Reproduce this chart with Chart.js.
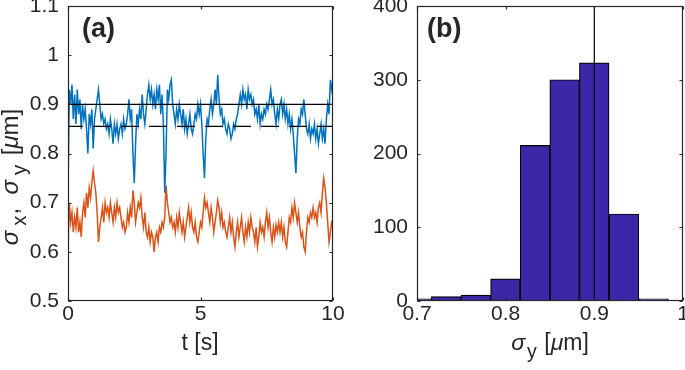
<!DOCTYPE html>
<html>
<head>
<meta charset="utf-8">
<script src="https://cdn.jsdelivr.net/npm/chart.js@4.4.0/dist/chart.umd.min.js"></script>
<style>
  html, body { margin: 0; padding: 0; background: #fff; }
  #wrap { position: relative; width: 685px; height: 370px; overflow: hidden; }
  #timeChart { position: absolute; left: 0; top: 0; }
  #histChart { position: absolute; left: 345px; top: 0; }
</style>
</head>
<body>
<div id="wrap">
  <canvas id="timeChart" width="345" height="370"></canvas>
  <canvas id="histChart" width="340" height="370"></canvas>
</div>
<script>
// ---- data ----
const dt = 0.05; // sample spacing of the traces, s

// sigma_y (blue), one value every 0.05 s from 0 to 10 s
const sigmaY = [
  0.72, 0.93, 0.90, 0.94, 0.87, 0.92, 0.86, 0.93, 0.88, 0.91, 0.85, 0.90, 0.87, 0.89, 0.85, 0.80, 0.88, 0.86, 0.89, 0.81,
  0.87, 0.89, 0.91, 0.93, 0.90, 0.87, 0.88, 0.86, 0.87, 0.85, 0.86, 0.84, 0.87, 0.85, 0.82, 0.86, 0.84, 0.86, 0.83, 0.85,
  0.86, 0.84, 0.87, 0.85, 0.86, 0.88, 0.91, 0.87, 0.89, 0.80, 0.74, 0.82, 0.88, 0.86, 0.89, 0.87, 0.92, 0.88, 0.86, 0.89,
  0.92, 0.94, 0.91, 0.93, 0.90, 0.92, 0.89, 0.93, 0.91, 0.94, 0.88, 0.92, 0.86, 0.72, 0.80, 0.93, 0.91, 0.94, 0.95, 0.90,
  0.88, 0.86, 0.89, 0.87, 0.90, 0.88, 0.86, 0.89, 0.85, 0.87, 0.84, 0.86, 0.88, 0.85, 0.84, 0.86, 0.88, 0.87, 0.90, 0.88,
  0.90, 0.86, 0.80, 0.75, 0.83, 0.87, 0.86, 0.89, 0.91, 0.88, 0.90, 0.93, 0.90, 0.96, 0.91, 0.88, 0.89, 0.86, 0.87, 0.85,
  0.84, 0.86, 0.85, 0.83, 0.84, 0.86, 0.85, 0.87, 0.88, 0.90, 0.92, 0.90, 0.93, 0.91, 0.92, 0.89, 0.93, 0.91, 0.92, 0.90,
  0.91, 0.88, 0.89, 0.87, 0.90, 0.86, 0.88, 0.87, 0.89, 0.88, 0.90, 0.89, 0.91, 0.93, 0.90, 0.91, 0.88, 0.86, 0.89, 0.87,
  0.90, 0.91, 0.88, 0.90, 0.87, 0.89, 0.86, 0.88, 0.85, 0.87, 0.84, 0.80, 0.76, 0.83, 0.87, 0.86, 0.89, 0.88, 0.91, 0.88,
  0.85, 0.84, 0.86, 0.83, 0.85, 0.84, 0.86, 0.83, 0.85, 0.82, 0.84, 0.86, 0.83, 0.85, 0.82, 0.87, 0.90, 0.88, 0.95, 0.93,
  0.95
];

// sigma_x (orange), same time base
const sigmaX = [
  0.61, 0.70, 0.66, 0.68, 0.64, 0.67, 0.65, 0.69, 0.64, 0.66, 0.63, 0.68, 0.70, 0.67, 0.72, 0.69, 0.73, 0.71, 0.74, 0.765,
  0.74, 0.72, 0.68, 0.62, 0.65, 0.67, 0.69, 0.66, 0.70, 0.68, 0.69, 0.67, 0.70, 0.68, 0.66, 0.69, 0.67, 0.70, 0.68, 0.69,
  0.67, 0.65, 0.66, 0.64, 0.65, 0.68, 0.66, 0.69, 0.67, 0.725, 0.70, 0.66, 0.68, 0.70, 0.69, 0.71, 0.67, 0.65, 0.68, 0.64,
  0.63, 0.65, 0.62, 0.64, 0.63, 0.60, 0.63, 0.64, 0.62, 0.65, 0.64, 0.66, 0.65, 0.67, 0.735, 0.70, 0.68, 0.66, 0.67, 0.65,
  0.66, 0.64, 0.67, 0.65, 0.68, 0.66, 0.64, 0.66, 0.63, 0.65, 0.67, 0.69, 0.66, 0.68, 0.65, 0.64, 0.66, 0.63, 0.62, 0.64,
  0.66, 0.65, 0.68, 0.71, 0.69, 0.70, 0.68, 0.66, 0.69, 0.67, 0.64, 0.66, 0.68, 0.705, 0.69, 0.66, 0.68, 0.65, 0.66, 0.64,
  0.63, 0.65, 0.67, 0.64, 0.66, 0.63, 0.61, 0.64, 0.66, 0.63, 0.65, 0.67, 0.64, 0.62, 0.65, 0.63, 0.66, 0.64, 0.67, 0.65,
  0.64, 0.62, 0.65, 0.61, 0.63, 0.66, 0.64, 0.65, 0.63, 0.66, 0.68, 0.65, 0.67, 0.64, 0.62, 0.65, 0.63, 0.655, 0.64, 0.66,
  0.64, 0.66, 0.63, 0.65, 0.62, 0.61, 0.64, 0.67, 0.66, 0.69, 0.67, 0.70, 0.68, 0.66, 0.68, 0.65, 0.63, 0.64, 0.61, 0.60,
  0.64, 0.67, 0.66, 0.68, 0.67, 0.69, 0.67, 0.68, 0.66, 0.69, 0.70, 0.68, 0.72, 0.75, 0.73, 0.70, 0.66, 0.62, 0.64, 0.66,
  0.655
];

const refSolid = 0.9;    // solid reference line, um
const refDashed = 0.855; // dashed mean line, um
const timeRange = [0, 10];
const timeTicks = [0, 5, 10];
const sigmaTicks = [0.5, 0.6, 0.7, 0.8, 0.9, 1, 1.1];

// histogram of sigma_y
const binCenters = [0.6995, 0.7329, 0.7663, 0.7997, 0.8331, 0.8665, 0.8999, 0.9334, 0.9668];
const binCounts = [3, 6, 8, 30, 211, 300, 323, 118, 3];
const histXTicks = [0.7, 0.8, 0.9, 1];
const histYTicks = [0, 100, 200, 300, 400];

// ---- styling ----
const FONT = "'Liberation Sans', Arial, Helvetica, sans-serif";
const INK = '#262626';
Chart.defaults.font.family = FONT;
Chart.defaults.color = INK;

function axis(ticks, min, max, isX, size, pad) {
  return {
    type: 'linear', min: min, max: max, offset: false,
    grid: { display: false, drawTicks: false },
    border: { display: false },
    ticks: {
      padding: pad, autoSkip: false, maxRotation: 0, color: INK,
      font: { size: 21 },
      callback: v => String(+v.toFixed(3))
    },
    afterBuildTicks: s => { s.ticks = ticks.map(v => ({ value: v })); },
    afterFit: s => {
      if (isX) { s.height = size; s.paddingLeft = 0; s.paddingRight = 0; }
      else { s.width = size; s.paddingTop = 0; s.paddingBottom = 0; }
    }
  };
}

function richFont(p, size) {
  const sz = p.sub ? size * 0.85 : size;
  return (p.it ? 'italic ' : '') + sz + 'px ' + FONT;
}

function drawRich(ctx, parts, cx, cy, size, rot) {
  ctx.save();
  ctx.translate(cx, cy);
  ctx.rotate(rot);
  ctx.textBaseline = 'alphabetic';
  ctx.textAlign = 'left';
  ctx.fillStyle = INK;
  let w = 0;
  parts.forEach(p => { ctx.font = richFont(p, size); p.w = ctx.measureText(p.t).width + (p.gap || 0); w += p.w; });
  let x = -w / 2;
  parts.forEach(p => {
    ctx.font = richFont(p, size);
    ctx.fillText(p.t, x, p.sub ? size * 0.33 : 0);
    x += p.w;
  });
  ctx.restore();
}

// box round the axes, inward ticks on all four sides, panel tag, axis titles
const framePlugin = {
  id: 'frame',
  afterDraw(chart, args, opts) {
    const { ctx, chartArea: a, scales } = chart;
    const L = Math.round(a.left) + 0.5, R = Math.round(a.right) - 0.5;
    const T = Math.round(a.top) + 0.5, B = Math.round(a.bottom) - 0.5;
    const tl = 3;
    ctx.save();
    ctx.strokeStyle = INK;
    ctx.lineWidth = 1.2;
    ctx.strokeRect(L, T, R - L, B - T);
    ctx.beginPath();
    scales.x.ticks.forEach(t => {
      const px = Math.round(scales.x.getPixelForValue(t.value)) + 0.5;
      ctx.moveTo(px, B); ctx.lineTo(px, B - tl);
      ctx.moveTo(px, T); ctx.lineTo(px, T + tl);
    });
    scales.y.ticks.forEach(t => {
      const py = Math.round(scales.y.getPixelForValue(t.value)) + 0.5;
      ctx.moveTo(L, py); ctx.lineTo(L + tl, py);
      ctx.moveTo(R, py); ctx.lineTo(R - tl, py);
    });
    ctx.stroke();

    ctx.fillStyle = INK;
    ctx.font = 'bold 27px ' + FONT;
    ctx.textBaseline = 'alphabetic';
    ctx.fillText(opts.tag, 82, 37);

    (opts.titles || []).forEach(t => drawRich(ctx, t.parts, t.x, t.y, t.size || 23, t.rot || 0));
    ctx.restore();
  }
};

// ---- panel (a): time traces ----
const toPoints = arr => arr.map((v, i) => ({ x: i * dt, y: v }));

new Chart(document.getElementById('timeChart'), {
  type: 'line',
  data: {
    datasets: [
      { data: [{ x: timeRange[0], y: refSolid }, { x: timeRange[1], y: refSolid }],
        borderColor: '#000', borderWidth: 1.2 },
      { data: [{ x: timeRange[0], y: refDashed }, { x: timeRange[1], y: refDashed }],
        borderColor: '#000', borderWidth: 1.2, borderDash: [18, 10], borderDashOffset: 3 },
      { data: toPoints(sigmaY), borderColor: '#0072BD', borderWidth: 1.5 },
      { data: toPoints(sigmaX), borderColor: '#D95319', borderWidth: 1.5 }
    ]
  },
  options: {
    responsive: false, animation: false, devicePixelRatio: 1,
    layout: { padding: { left: 0, right: 12, top: 6, bottom: 0 } },
    elements: { point: { radius: 0 }, line: { tension: 0, fill: false } },
    scales: {
      x: axis(timeTicks, 0, 10, true, 69, 1),
      y: axis(sigmaTicks, 0.5, 1.1, false, 68, 9)
    },
    plugins: {
      legend: { display: false },
      tooltip: { enabled: false },
      frame: {
        tag: '(a)',
        titles: [
          { parts: [{ t: 't [s]' }], x: 200, y: 350 },
          { parts: [{ t: 'σ', it: true, gap: 5 }, { t: 'x', sub: true, gap: 1 }, { t: ',  ' }, { t: 'σ', it: true, gap: 5 },
                    { t: 'y', sub: true, gap: 3 }, { t: ' [' }, { t: 'μ', it: true }, { t: 'm]' }],
            x: 18, y: 177, rot: -Math.PI / 2, size: 24 }
        ]
      }
    }
  },
  plugins: [framePlugin]
});

// ---- panel (b): histogram ----
new Chart(document.getElementById('histChart'), {
  type: 'bar',
  data: {
    datasets: [
      { type: 'line', order: 0,
        data: [{ x: refSolid, y: histYTicks[0] }, { x: refSolid, y: histYTicks[histYTicks.length - 1] }],
        borderColor: '#000', borderWidth: 1.2, pointRadius: 0 },
      { type: 'bar', order: 1,
        data: binCenters.map((c, i) => ({ x: c, y: binCounts[i] })),
        backgroundColor: '#3E26A8', borderColor: '#000', borderWidth: 1.2, borderSkipped: false,
        barPercentage: 1, categoryPercentage: 1, clip: 0 }
    ]
  },
  options: {
    responsive: false, animation: false, devicePixelRatio: 1,
    layout: { padding: { left: 0, right: 2, top: 6, bottom: 0 } },
    scales: {
      x: axis(histXTicks, 0.7, 1, true, 69, 1),
      y: axis(histYTicks, 0, 400, false, 72, 9)
    },
    plugins: {
      legend: { display: false },
      tooltip: { enabled: false },
      frame: {
        tag: '(b)',
        titles: [
          { parts: [{ t: 'σ', it: true, gap: 2 }, { t: 'y', sub: true, gap: 1 }, { t: ' [' }, { t: 'μ', it: true }, { t: 'm]' }],
            x: 205, y: 350 }
        ]
      }
    }
  },
  plugins: [framePlugin]
});
</script>
</body>
</html>
